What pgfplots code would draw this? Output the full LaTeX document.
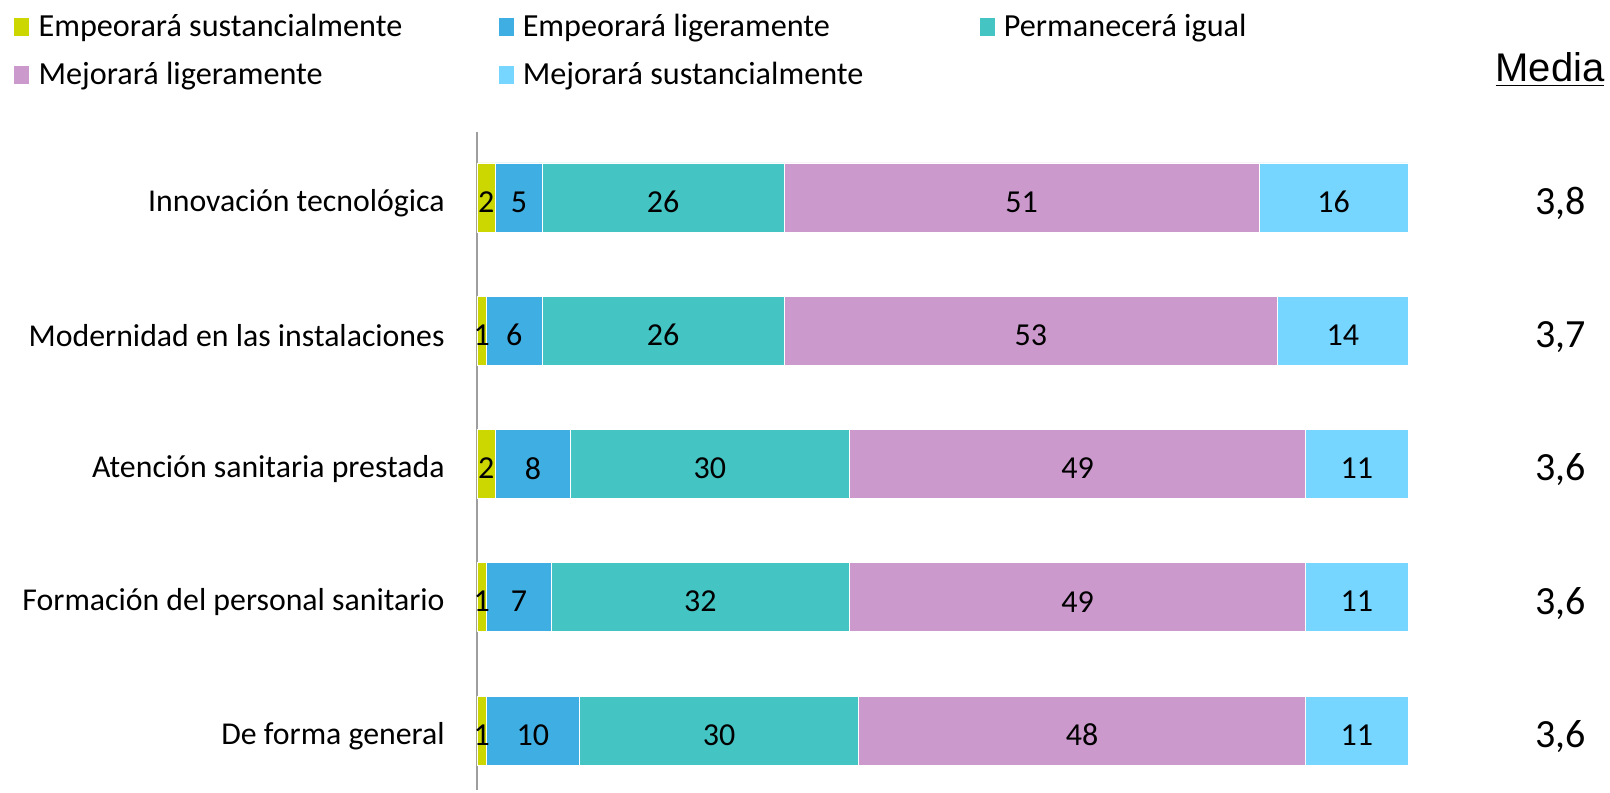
\documentclass[border=0pt]{standalone}
\usepackage{pgfplots}
\pgfplotsset{compat=1.18}
\usepackage{pgfplotstable}
\usepackage{fontspec}
\setmainfont{Carlito}
\newfontfamily\arialf{Liberation Sans}
\definecolor{c1}{HTML}{CCD600}
\definecolor{c2}{HTML}{3FAEE2}
\definecolor{c3}{HTML}{45C4C4}
\definecolor{c4}{HTML}{CC99CC}
\definecolor{c5}{HTML}{76D6FF}
\pgfplotstableread{
y a b c d e
0 1 10 30 48 11
1 1 7 32 49 11
2 2 8 30 49 11
3 1 6 26 53 14
4 2 5 26 51 16
}\data
\pgfplotsset{base/.style={
  at={(0,0)}, anchor=south west,
  scale only axis, width=465.5bp, height=329bp,
  xmin=0, xmax=100, ymin=-0.4465, ymax=4.4916,
  clip=false}}
\begin{document}
\begin{tikzpicture}
\path[use as bounding box] (-238.5bp,-1.5bp) rectangle (566.5bp,395bp);
\begin{axis}[base,
  xbar stacked, bar width=34.5bp,
  hide x axis, axis y line*=left,
  y axis line style={color=black!38, line width=1bp},
  ytick={0,1,2,3,4},
  yticklabels={De forma general, Formación del personal sanitario, Atención sanitaria prestada, Modernidad en las instalaciones, Innovación tecnológica},
  ytick style={draw=none},
  yticklabel style={font=\fontsize{15.9bp}{18bp}\selectfont, anchor=east, inner sep=0pt, xshift=-16bp, yshift=-2.6bp},
  legend columns=3,
  legend cell align=left,
  legend style={at={(-0.4973,1.1857)}, anchor=north west, draw=none, fill=none, inner sep=0pt,
     font=\fontsize{16.1bp}{19bp}\selectfont, row sep=7.5bp,
     /tikz/every odd column/.append style={column sep=2.6bp}},
  legend image code/.code={\fill[#1,draw=none] (0bp,-4.5bp) rectangle (7.5bp,4.5bp);},
]
\addplot[fill=c1, draw=white, line width=0.4bp] table[x=a, y=y] {\data};
\addlegendentry{\makebox[228bp][l]{Empeorará sustancialmente}}
\addplot[fill=c2, draw=white, line width=0.4bp] table[x=b, y=y] {\data};
\addlegendentry{\makebox[226.5bp][l]{Empeorará ligeramente}}
\addplot[fill=c3, draw=white, line width=0.4bp] table[x=c, y=y] {\data};
\addlegendentry{Permanecerá igual}
\addplot[fill=c4, draw=white, line width=0.4bp] table[x=d, y=y] {\data};
\addlegendentry{\makebox[228bp][l]{Mejorará ligeramente}}
\addplot[fill=c5, draw=white, line width=0.4bp] table[x=e, y=y] {\data};
\addlegendentry{\makebox[226.5bp][l]{Mejorará sustancialmente}}
\node[font=\fontsize{20bp}{24bp}\selectfont, yshift=-3bp] at (axis cs:116.4,4) {3,8};
\node[font=\fontsize{20bp}{24bp}\selectfont, yshift=-3bp] at (axis cs:116.4,3) {3,7};
\node[font=\fontsize{20bp}{24bp}\selectfont, yshift=-3bp] at (axis cs:116.4,2) {3,6};
\node[font=\fontsize{20bp}{24bp}\selectfont, yshift=-3bp] at (axis cs:116.4,1) {3,6};
\node[font=\fontsize{20bp}{24bp}\selectfont, yshift=-3bp] at (axis cs:116.4,0) {3,6};
\end{axis}
\begin{axis}[base, hide axis,
  point meta=explicit,
  /pgf/number format/assume math mode=true,
  nodes near coords,
  nodes near coords style={font=\fontsize{16bp}{18bp}\selectfont, text=black, anchor=center, inner sep=0pt, yshift=-2.2bp}]
\addplot[draw=none, mark=none] table[x expr=\thisrow{a}/2, y=y, meta=a] {\data};
\addplot[draw=none, mark=none] table[x expr=\thisrow{a}+\thisrow{b}/2, y=y, meta=b] {\data};
\addplot[draw=none, mark=none] table[x expr=\thisrow{a}+\thisrow{b}+\thisrow{c}/2, y=y, meta=c] {\data};
\addplot[draw=none, mark=none] table[x expr=\thisrow{a}+\thisrow{b}+\thisrow{c}+\thisrow{d}/2, y=y, meta=d] {\data};
\addplot[draw=none, mark=none] table[x expr=100-\thisrow{e}/2, y=y, meta=e] {\data};
\end{axis}
\node[anchor=base, font=\arialf\fontsize{20bp}{24bp}\selectfont] at (536.5bp,354bp) {\underline{Media}};
\end{tikzpicture}
\end{document}
